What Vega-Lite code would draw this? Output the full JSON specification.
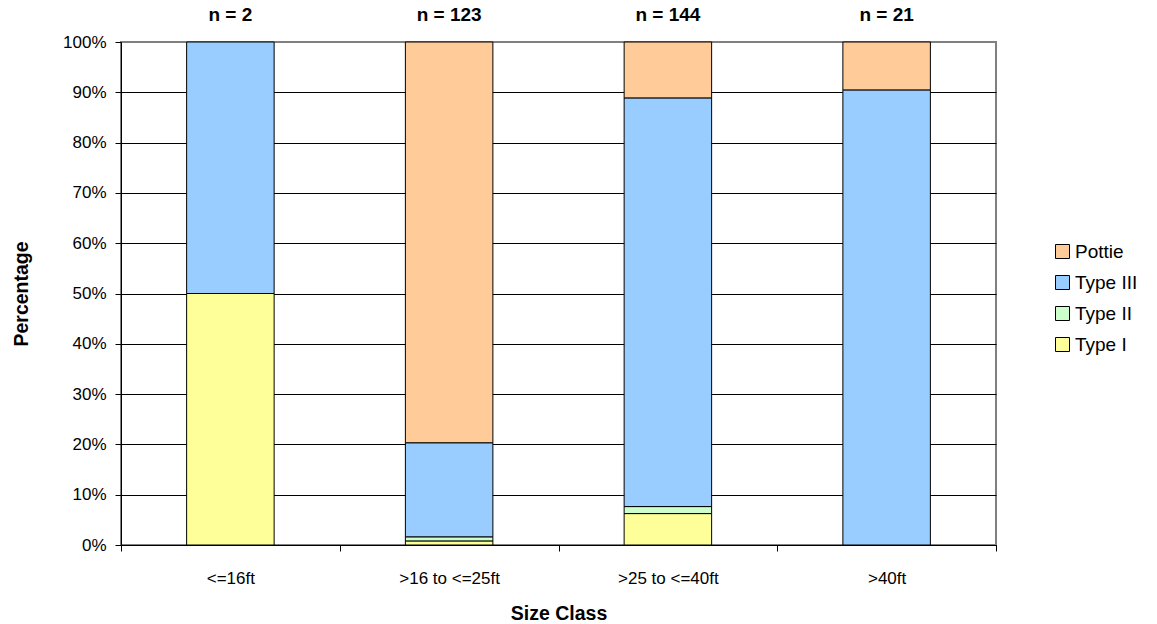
{
  "$schema": "https://vega.github.io/schema/vega-lite/v6.json",
  "width": 875,
  "height": 503,
  "autosize": {"type": "none"},
  "padding": {"left": 121, "top": 42, "right": 161, "bottom": 79},
  "background": "white",
  "config": {
    "font": "Liberation Sans",
    "view": {"stroke": "#808080", "strokeWidth": 2}
  },
  "datasets": {
    "counts": [
      {"size_class": "<=16ft", "type": "Type I", "stack_order": 1, "count": 1},
      {"size_class": "<=16ft", "type": "Type III", "stack_order": 3, "count": 1},
      {"size_class": ">16 to <=25ft", "type": "Type I", "stack_order": 1, "count": 1},
      {"size_class": ">16 to <=25ft", "type": "Type II", "stack_order": 2, "count": 1},
      {"size_class": ">16 to <=25ft", "type": "Type III", "stack_order": 3, "count": 23},
      {"size_class": ">16 to <=25ft", "type": "Pottie", "stack_order": 4, "count": 98},
      {"size_class": ">25 to <=40ft", "type": "Type I", "stack_order": 1, "count": 9},
      {"size_class": ">25 to <=40ft", "type": "Type II", "stack_order": 2, "count": 2},
      {"size_class": ">25 to <=40ft", "type": "Type III", "stack_order": 3, "count": 117},
      {"size_class": ">25 to <=40ft", "type": "Pottie", "stack_order": 4, "count": 16},
      {"size_class": ">40ft", "type": "Type III", "stack_order": 3, "count": 19},
      {"size_class": ">40ft", "type": "Pottie", "stack_order": 4, "count": 2}
    ],
    "totals": [
      {"size_class": "<=16ft", "label": "n = 2"},
      {"size_class": ">16 to <=25ft", "label": "n = 123"},
      {"size_class": ">25 to <=40ft", "label": "n = 144"},
      {"size_class": ">40ft", "label": "n = 21"}
    ]
  },
  "layer": [
    {
      "data": {"name": "counts"},
      "mark": {"type": "bar", "stroke": "black", "strokeWidth": 1, "width": {"band": 0.4}},
      "encoding": {
        "x": {
          "field": "size_class",
          "type": "nominal",
          "sort": ["<=16ft", ">16 to <=25ft", ">25 to <=40ft", ">40ft"],
          "scale": {"paddingInner": 0, "paddingOuter": 0},
          "axis": {
            "title": "Size Class",
            "titleFontSize": 19.5,
            "titleFontWeight": "bold",
            "titleColor": "black",
            "titlePadding": 18,
            "labelAngle": 0,
            "labelFontSize": 17,
            "labelColor": "black",
            "labelPadding": 19,
            "tickBand": "extent",
            "tickSize": 6,
            "tickColor": "black",
            "domainColor": "black",
            "grid": false
          }
        },
        "y": {
          "field": "count",
          "type": "quantitative",
          "stack": "normalize",
          "scale": {"domain": [0, 1]},
          "axis": {
            "title": "Percentage",
            "titleFontSize": 19.5,
            "titleFontWeight": "bold",
            "titleColor": "black",
            "titlePadding": 31,
            "values": [0, 0.1, 0.2, 0.3, 0.4, 0.5, 0.6, 0.7, 0.8, 0.9, 1],
            "format": ".0%",
            "labelFontSize": 17,
            "labelColor": "black",
            "labelPadding": 9,
            "tickSize": 6,
            "tickColor": "black",
            "domainColor": "black",
            "grid": true,
            "gridColor": {"condition": {"test": "datum.value >= 1", "value": "#808080"}, "value": "black"},
            "gridOpacity": 1
          }
        },
        "color": {
          "field": "type",
          "type": "nominal",
          "scale": {
            "domain": ["Pottie", "Type III", "Type II", "Type I"],
            "range": ["#FFCC99", "#99CCFF", "#CCFFCC", "#FFFF99"]
          },
          "legend": {
            "title": null,
            "orient": "none",
            "legendX": 932,
            "legendY": 200,
            "symbolType": "square",
            "symbolSize": 196,
            "symbolStrokeColor": "black",
            "symbolStrokeWidth": 1,
            "symbolOpacity": 1,
            "labelFontSize": 19,
            "labelColor": "black",
            "labelOffset": 3,
            "rowPadding": 11
          }
        },
        "order": {"field": "stack_order", "type": "quantitative"}
      }
    },
    {
      "data": {"name": "totals"},
      "mark": {"type": "text", "fontWeight": "bold", "fontSize": 19, "color": "black", "dy": -27},
      "encoding": {
        "x": {"field": "size_class", "type": "nominal", "sort": ["<=16ft", ">16 to <=25ft", ">25 to <=40ft", ">40ft"]},
        "y": {"datum": 1},
        "text": {"field": "label"}
      }
    }
  ]
}
